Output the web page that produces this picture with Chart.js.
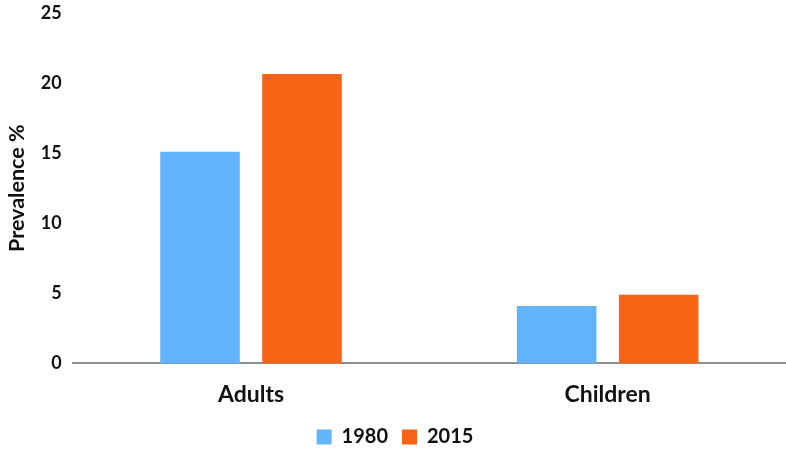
<!DOCTYPE html>
<html lang="en">
<head>
    <meta charset="UTF-8">
    <title>Prevalence</title>
    <script src="https://cdn.jsdelivr.net/npm/chart.js"></script>
    <style>
        body {
            margin: 0;
            padding: 0;
            background: #fff;
        }
        .chart-container {
            position: relative;
            width: 786px;
            height: 455px;
        }
    </style>
</head>
<body>
    <div class="chart-container">
        <canvas id="barChart"></canvas>
    </div>

    <script>
        const categories = ['Adults', 'Children'];
        const values1980 = [15.1, 4.1];
        const values2015 = [20.65, 4.9];
        const yTicks = [0, 5, 10, 15, 20, 25];

        const font = "Lato, 'Open Sans', sans-serif";

        const ctx = document.getElementById('barChart').getContext('2d');
        const barChart = new Chart(ctx, {
            type: 'bar',
            data: {
                labels: categories,
                datasets: [{
                    label: '1980',
                    data: values1980,
                    backgroundColor: '#62b4fc'
                }, {
                    label: '2015',
                    data: values2015,
                    backgroundColor: '#f86416'
                }]
            },
            options: {
                responsive: true,
                maintainAspectRatio: false,
                animation: false,
                categoryPercentage: 0.572,
                barPercentage: 0.78,
                layout: {
                    padding: { top: 13, right: 0, left: 4, bottom: -2 }
                },
                scales: {
                    x: {
                        grid: { display: false, drawTicks: false },
                        border: { color: '#8c9090', width: 2 },
                        ticks: {
                            color: '#111',
                            padding: 17,
                            font: { family: font, size: 23, weight: 'bold' }
                        },
                        // pull the legend closer to the category labels
                        afterFit: (scale) => { scale.height -= 12; }
                    },
                    y: {
                        min: 0,
                        max: 25,
                        afterBuildTicks: (axis) => {
                            axis.ticks = yTicks.map(v => ({ value: v }));
                        },
                        // let the top tick label sit close to the edge
                        afterFit: (scale) => { scale.paddingTop = 0; },
                        grid: { display: false, drawTicks: false },
                        border: { display: false },
                        ticks: {
                            color: '#111',
                            padding: 11,
                            font: { family: font, size: 18, weight: 'bold' }
                        },
                        title: {
                            display: true,
                            text: 'Prevalence %',
                            color: '#111',
                            padding: { top: 0, bottom: 0 },
                            font: { family: font, size: 21.5, weight: 'bold' }
                        }
                    }
                },
                plugins: {
                    legend: {
                        position: 'bottom',
                        labels: {
                            color: '#111',
                            boxWidth: 15,
                            boxHeight: 15,
                            padding: 14,
                            font: { family: font, size: 20, weight: 'bold' }
                        }
                    },
                    tooltip: { enabled: false }
                }
            }
        });
    </script>
</body>
</html>
